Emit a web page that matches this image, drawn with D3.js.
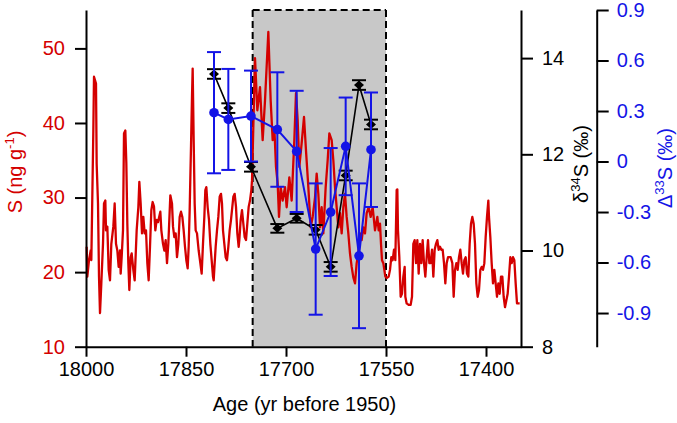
<!DOCTYPE html>
<html><head><meta charset="utf-8">
<script src="https://cdn.jsdelivr.net/npm/d3@7"></script>
<style>
body{margin:0;background:#fff}
text{font-family:"Liberation Sans",Arial,sans-serif}
</style>
</head><body>
<svg id="chart" width="677" height="423"></svg>
<script>
// ---- data ----
const sAge = [
17999,17998,17995.5,17993,17992,17989,17988,17985,17984,17982,17980.5,17979,17977,17974.5,17973,17971,17970,17968,17966,17964,17962,17959,17957,17955,17953,17951,17949,17948,17946.5,17944.5,17943,17941,17939.5,17938,17936.5,17935,17933,17931.5,17929,17927,17924,17921.5,17920,17918,17916,17914,17912,17910,17908,17906,17904,17902,17900,17898,17896,17894,17892,
17888.5,17887,17884.5,17882.5,17880.5,17878.5,17876.5,17873.5,17871,17869.5,17867.5,17865.5,17863.5,17861.5,17859.5,17857.5,17855.5,17853.5,17851.5,17849.5,17847.5,17846,17844.5,17842.5,17841,17840,17838.5,17837,17835.5,17833.5,17831,17828.5,17826.5,17824.5,17822.5,17821,17819.5,17817.5,17815.5,17813.5,17811.5,17809.5,17808.5,17807,17805.5,17803.5,17801.5,17799.5,17797.5,17796,17794.5,17792.5,17790.5,17788.5,17786.5,17784.5,17782.5,
17779,17777,17775,17773,17771,17770,17768,17766,17764,17762,17760,17758,17756,17754,17752,17751,
17746.5,17743,17739,17735,17731.5,17726.5,17723,17720,17717.5,17715,17712.5,17710.5,17708,17705,17701.5,17699,17695,17691.5,17687.5,17685,17682.5,17680,17676.5,17673,17670,17666.5,17663,17660,17656.5,17654,17651.5,17649,17646.5,17644,17640.5,17637.5,17635,17631.5,17629,17626.5,17624,17621.5,17619,17616.5,17614,17611.5,17609,17606.5,17604,17601.5,17599,17596.5,17594,17591.5,17589,17586.5,17584,17581.5,17579,17576,17573,17570,17566.5,17563,
17561,17559,17557.5,17556,17554,17551,17549,17546,17544,17542,17540,17538,17536,17534,17533,17532,17530,17528,17526,17524,17522,17521,17519,17516,17513,17511,17509,17507,17505,17503,17501,17499,17497,17495,17493,17491,17489,17487,17485,17483,17481,17479,17477,17475,17473,17471,17469,17467,17465,17463,17461,17459,17457,
17453,17450.5,17448.5,17446.5,17444.5,17442.5,17440.5,17438.5,17436.5,17434.5,17432.5,17430.5,17428.5,17426.5,17424.5,17422.5,17420.5,17418.5,17416.5,17414.5,17412.5,17410.5,17408.5,17406.5,17404.5,17402.5,17400.5,17398.5,17396.5,17395.5,17393.5,17391.5,17389.5,17387.5,17385.5,17383.5,17381.5,17379.5,17377.5,17375.5,17373.5,17371.5,17369.5,17367.5,17365.5,17363.5,17361.5,17359.5,17357.5,17355.5,17353.5,17349.5];
const sConc = [
23.4,19.4,21.6,22.9,21.6,39.0,46.2,45.3,34.5,29.2,19.4,14.5,18.5,23.8,29.2,29.6,25.6,26.1,20.3,18.9,23.8,26.1,29.2,23.8,22.9,20.7,22.9,19.8,22.0,25.6,38.6,39.0,34.6,26.5,21.2,17.6,22.0,22.5,20.3,18.9,25.6,28.7,32.1,29.2,25.2,27.4,25.2,25.6,21.2,18.9,23.4,28.3,29.4,28.8,25.6,27.0,26.7,
28.1,25.6,23.8,22.9,24.3,21.2,23.8,30.3,29.2,26.1,24.7,25.2,22.0,23.8,27.4,28.1,27.4,25.6,23.4,21.6,20.5,23.4,28.3,36.8,43.5,47.3,37.7,29.2,25.6,25.2,22.9,21.2,19.8,23.8,27.4,31.0,31.4,28.7,27.0,23.8,21.6,19.4,18.9,21.2,23.4,25.6,27.4,30.1,30.5,29.2,25.6,23.8,22.0,21.6,23.4,25.6,27.0,
30.1,30.5,28.75,25.2,23.4,24.3,27.0,28.3,26.5,24.7,24.3,26.5,28.75,29.6,31.0,32.3,
48.7,41.7,44.8,37.7,43.0,52.2,43.0,37.7,39.4,34.1,31.9,27.4,31.4,29.6,31.4,28.7,32.7,29.6,37.7,44.0,40.4,34.1,37.3,40.8,36.3,31.4,26.0,27.4,30.0,33.2,30.5,26.0,28.7,25.2,31.4,35.0,38.6,37.7,35.0,31.4,28.7,26.0,27.9,25.2,28.7,30.5,27.4,25.2,22.5,20.7,19.3,18.5,21.2,22.5,25.2,24.3,26.0,25.2,27.9,28.7,27.4,28.7,25.6,27.4,
25.6,26.5,23.8,21.6,21.2,19.4,19.2,19.4,20.3,22.0,21.6,23.0,21.6,31.0,31.1,25.6,22.0,16.7,17.1,19.4,20.7,16.7,15.8,15.6,15.6,16.7,23.8,24.3,21.2,24.3,19.8,23.8,21.2,24.3,21.2,19.4,22.0,24.3,21.2,21.2,23.0,19.4,23.0,23.8,24.3,23.0,23.4,23.0,23.0,21.2,18.5,21.2,22.0,
22.0,21.2,16.7,20.3,21.2,20.3,22.0,23.0,21.2,19.8,21.6,22.0,19.8,19.4,23.8,26.5,27.4,26.5,23.8,18.5,16.7,17.6,20.3,20.7,20.3,21.2,24.7,27.4,29.6,27.4,24.7,21.2,18.5,20.3,18.5,16.7,18.5,17.1,19.4,19.4,16.7,15.3,16.2,17.1,19.4,22.0,21.2,22.0,21.6,18.5,15.8,15.8];

const isoAge = [17808, 17786.5, 17752.5, 17713, 17684, 17655.5, 17633, 17610.5, 17590.5, 17572.5];
const d34S   = [13.67, 12.96, 11.74, 10.46, 10.67, 10.43, 9.66, 11.56, 13.44, 12.62];
const d34Err = [0.10, 0.10, 0.10, 0.09, 0.09, 0.10, 0.10, 0.10, 0.10, 0.10];
const D33S   = [0.29, 0.25, 0.27, 0.19, 0.06, -0.52, -0.30, 0.09, -0.56, 0.07];
const D33Err = [0.36, 0.30, 0.27, 0.34, 0.36, 0.39, 0.38, 0.29, 0.43, 0.34];

const shadeRange = [17750, 17550];
const xTicks = [18000, 17850, 17700, 17550, 17400];
const sTicks = [10, 20, 30, 40, 50];
const d34Ticks = [8, 10, 12, 14];
const D33Ticks = [0.9, 0.6, 0.3, 0, -0.3, -0.6, -0.9];

// ---- layout ----
const RED = "#d40000", BLUE = "#1414e6", BLACK = "#000";
const L = 86, R = 521, T = 10, B = 346.7, R2 = 596.7;
const FS = 20;

const svg = d3.select("#chart");
const x = d3.scaleLinear().domain([18000, 17347.5]).range([L, R]);
const yS = d3.scaleLinear().domain([10, 55.15]).range([B, T]);
const y34 = d3.scaleLinear().domain([8, 15]).range([B, T]);
const y33 = d3.scaleLinear().domain([-1.1, 0.9]).range([B, T]);

// shaded interval
svg.append("rect")
  .attr("x", x(shadeRange[0])).attr("y", T)
  .attr("width", x(shadeRange[1]) - x(shadeRange[0]))
  .attr("height", B - T)
  .attr("fill", "#c8c8c8");
[[x(shadeRange[0]), T, x(shadeRange[0]), B],
 [x(shadeRange[1]), T, x(shadeRange[1]), B],
 [x(shadeRange[0]), T, x(shadeRange[1]), T]].forEach(s => {
  svg.append("line").attr("x1", s[0]).attr("y1", s[1]).attr("x2", s[2]).attr("y2", s[3])
    .attr("stroke", BLACK).attr("stroke-width", 2).attr("stroke-dasharray", "7,4");
});

// red S line
const sData = sAge.map((a, i) => [a, sConc[i]]);
svg.append("path").datum(sData)
  .attr("fill", "none").attr("stroke", RED).attr("stroke-width", 2.3)
  .attr("stroke-linejoin", "round")
  .attr("d", d3.line().x(d => x(d[0])).y(d => yS(d[1])));

// delta34S black
const iso = isoAge.map((a, i) => ({a, d34: d34S[i], e34: d34Err[i], D33: D33S[i], e33: D33Err[i]}));
svg.append("path").datum(iso)
  .attr("fill", "none").attr("stroke", BLACK).attr("stroke-width", 1.6)
  .attr("d", d3.line().x(d => x(d.a)).y(d => y34(d.d34)));
const g34 = svg.append("g");
iso.forEach(d => {
  const cx = x(d.a), y1 = y34(d.d34 + d.e34), y2 = y34(d.d34 - d.e34);
  g34.append("line").attr("x1", cx).attr("x2", cx).attr("y1", y1).attr("y2", y2).attr("stroke", BLACK).attr("stroke-width", 1.6);
  [y1, y2].forEach(yy => g34.append("line").attr("x1", cx - 7).attr("x2", cx + 7).attr("y1", yy).attr("y2", yy).attr("stroke", BLACK).attr("stroke-width", 2));
  const cy = y34(d.d34);
  g34.append("path").attr("d", `M${cx - 5},${cy}L${cx},${cy - 4.5}L${cx + 5},${cy}L${cx},${cy + 4.5}Z`).attr("fill", BLACK);
});

// Delta33S blue
svg.append("path").datum(iso)
  .attr("fill", "none").attr("stroke", BLUE).attr("stroke-width", 2)
  .attr("d", d3.line().x(d => x(d.a)).y(d => y33(d.D33)));
const g33 = svg.append("g");
iso.forEach(d => {
  const cx = x(d.a), y1 = y33(d.D33 + d.e33), y2 = y33(d.D33 - d.e33);
  g33.append("line").attr("x1", cx).attr("x2", cx).attr("y1", y1).attr("y2", y2).attr("stroke", BLUE).attr("stroke-width", 2);
  [y1, y2].forEach(yy => g33.append("line").attr("x1", cx - 7).attr("x2", cx + 7).attr("y1", yy).attr("y2", yy).attr("stroke", BLUE).attr("stroke-width", 2));
  g33.append("circle").attr("cx", cx).attr("cy", y33(d.D33)).attr("r", 4.8).attr("fill", BLUE);
});

// axes
function styleAxis(g, color) {
  g.selectAll(".domain").attr("stroke", BLACK).attr("stroke-width", 2);
  g.selectAll(".tick line").attr("stroke", BLACK).attr("stroke-width", 2);
  g.selectAll(".tick text").attr("fill", color).style("font-size", FS + "px")
   .style("font-family", '"Liberation Sans", Arial, sans-serif');
}
const gx = svg.append("g").attr("transform", `translate(0,${B})`)
  .call(d3.axisBottom(x).tickValues(xTicks).tickFormat(d3.format("d")).tickSize(10).tickSizeOuter(0).tickPadding(5));
styleAxis(gx, BLACK);
const gyS = svg.append("g").attr("transform", `translate(${L},0)`)
  .call(d3.axisLeft(yS).tickValues(sTicks).tickFormat(d3.format("d")).tickSize(11).tickSizeOuter(0).tickPadding(10));
styleAxis(gyS, RED);
const gy34 = svg.append("g").attr("transform", `translate(${R},0)`)
  .call(d3.axisRight(y34).tickValues(d34Ticks).tickFormat(d3.format("d")).tickSize(12).tickSizeOuter(0).tickPadding(9));
styleAxis(gy34, BLACK);
const gy33 = svg.append("g").attr("transform", `translate(${R2},0)`)
  .call(d3.axisRight(y33).tickValues(D33Ticks).tickFormat(d => d === 0 ? "0" : d3.format(".1f")(d).replace("−", "-")).tickSize(12).tickSizeOuter(0).tickPadding(8));
styleAxis(gy33, BLUE);

// axis titles
svg.append("text").attr("x", (L + R) / 2 + 1).attr("y", 411).attr("text-anchor", "middle")
  .attr("font-size", FS).attr("fill", BLACK).text("Age (yr before 1950)");

const tS = svg.append("text").attr("transform", `translate(22,172) rotate(-90)`)
  .attr("text-anchor", "middle").attr("font-size", FS).attr("fill", RED);
tS.append("tspan").text("S (ng g");
tS.append("tspan").attr("dy", -8).attr("font-size", 13).text("-1");
tS.append("tspan").attr("dy", 8).text(")");

const t34 = svg.append("text").attr("transform", `translate(588,164) rotate(-90)`)
  .attr("text-anchor", "middle").attr("font-size", FS).attr("fill", BLACK);
t34.append("tspan").text("δ");
t34.append("tspan").attr("dy", -8).attr("font-size", 13).text("34");
t34.append("tspan").attr("dy", 8).text("S (‰)");

const t33 = svg.append("text").attr("transform", `translate(672,168) rotate(-90)`)
  .attr("text-anchor", "middle").attr("font-size", FS).attr("fill", BLUE);
t33.append("tspan").text("Δ");
t33.append("tspan").attr("dy", -8).attr("font-size", 13).text("33");
t33.append("tspan").attr("dy", 8).text("S (‰)");
</script>
</body></html>
